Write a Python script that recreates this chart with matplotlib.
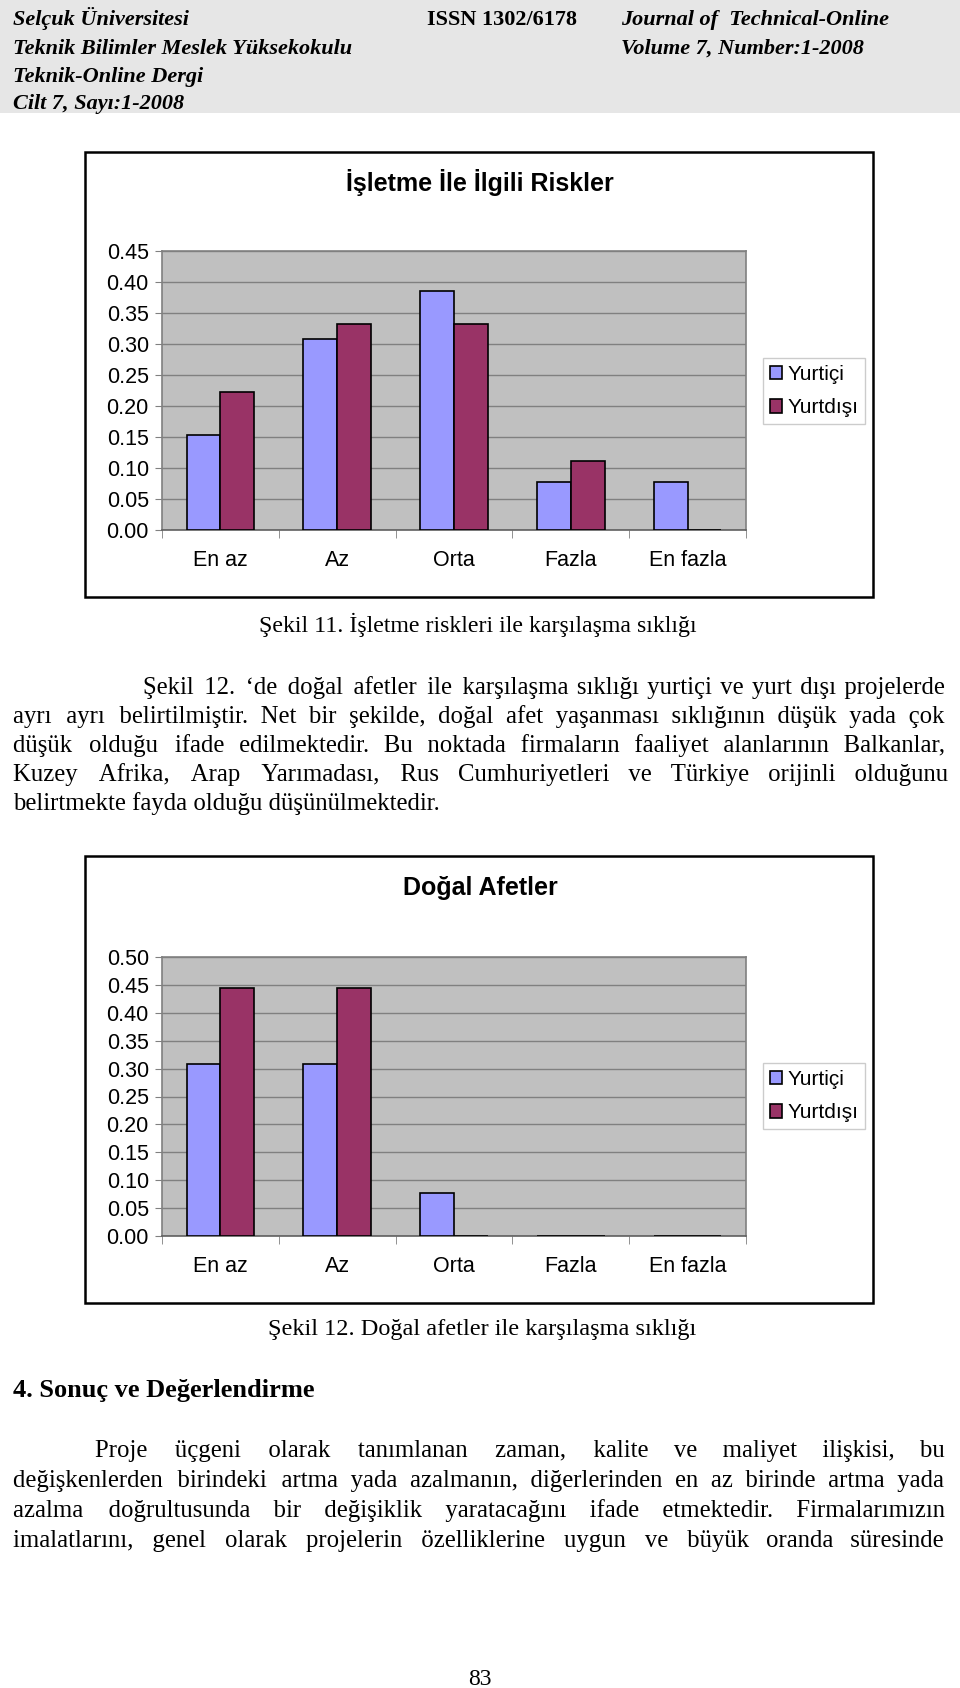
import numpy as np
import matplotlib.pyplot as plt
from matplotlib.patches import Rectangle

#
# Veriler
#
kategoriler = ['En az', 'Az', 'Orta', 'Fazla', 'En fazla']
seriler = ['Yurtiçi', 'Yurtdışı']
renkler = ['#9999ff', '#993366']

# Şekil 11 - İşletme ile ilgili riskler
risk_yurtici = [0.154, 0.308, 0.385, 0.077, 0.077]
risk_yurtdisi = [0.222, 0.333, 0.333, 0.111, 0.0]

# Şekil 12 - Doğal afetler
afet_yurtici = [0.308, 0.308, 0.077, 0.0, 0.0]
afet_yurtdisi = [0.444, 0.444, 0.0, 0.0, 0.0]

W, H = 960, 1688
plt.rcParams['font.family'] = 'Liberation Sans'
fig = plt.figure(figsize=(W / 100, H / 100), dpi=100)
fig.patch.set_facecolor('white')
r = fig.canvas.get_renderer()


def fy(y):
    return 1 - y / H


def kutu_ekle(l, t, rr, b, **kw):
    fig.patches.append(Rectangle((l / W, fy(b)), (rr - l) / W, (b - t) / H,
                                 transform=fig.transFigure, **kw))


#
# Grafik çizimi
#
def grafik(kutu, alan, baslik, baslik_y, yurtici, yurtdisi, ymax, lejant_y):
    kutu_ekle(*kutu, fc='white', ec='black', lw=1.8, zorder=-1)
    l, t, rr, b = alan
    ax = fig.add_axes([l / W, fy(b), (rr - l) / W, (b - t) / H])
    ax.set_zorder(2)
    x = np.arange(len(kategoriler))
    w = 0.29
    ax.bar(x - w / 2, yurtici, w, color=renkler[0], edgecolor='black', lw=1.2,
           label=seriler[0], zorder=3)
    ax.bar(x + w / 2, yurtdisi, w, color=renkler[1], edgecolor='black', lw=1.2,
           label=seriler[1], zorder=3)
    ax.set_xlim(-0.5, len(kategoriler) - 0.5)
    ax.set_ylim(0, ymax)
    ax.set_facecolor('#c0c0c0')
    yt = np.arange(0, ymax + 0.001, 0.05)
    ax.set_yticks(yt)
    ax.set_yticklabels(['%.2f' % v for v in yt])
    ax.yaxis.grid(True, color='#808080', lw=1)
    ax.set_axisbelow(True)
    ax.set_xticks(x)
    ax.set_xticklabels(kategoriler)
    ax.set_xticks(np.arange(-0.5, len(kategoriler), 1), minor=True)
    ax.tick_params(axis='x', which='major', length=0, pad=14.5, labelsize=15.5)
    ax.tick_params(axis='x', which='minor', length=6, color='#808080')
    ax.tick_params(axis='y', length=5, color='#808080', pad=4.5, labelsize=15.5)
    for s in ax.spines.values():
        s.set_color('#808080')
        s.set_linewidth(1.2)
    ax.spines['bottom'].set_color('#606060')
    fig.text(480 / W, fy(baslik_y), baslik, ha='center', va='center',
             fontsize=18, fontweight='bold')
    lg = ax.legend(loc='center', bbox_to_anchor=(814 / W, fy(lejant_y)),
                   bbox_transform=fig.transFigure, fontsize=15, fancybox=False,
                   edgecolor='#c0c0c0', handlelength=0.6, handleheight=0.6,
                   handletextpad=0.25, borderpad=0.3, labelspacing=0.7,
                   borderaxespad=0)
    lg.get_frame().set_linewidth(1)
    return ax


grafik((85, 152, 873, 597), (162, 251, 746, 530), 'İşletme İle İlgili Riskler', 183,
       risk_yurtici, risk_yurtdisi, 0.45, 391)
grafik((85, 856, 873, 1303), (162, 957, 746, 1236), 'Doğal Afetler', 888,
       afet_yurtici, afet_yurtdisi, 0.50, 1096)

#
# Sayfa metinleri
#
SERIF = ['Liberation Serif', 'DejaVu Serif']
GOVDE = 17.8
INCE = '\u200a'   # iki yana yaslama için ince boşluk


def genislik(s, boyut, agirlik='normal'):
    t = fig.text(0, 0, s, fontsize=boyut, family=SERIF, fontweight=agirlik)
    g = t.get_window_extent(r).width
    t.remove()
    return g


def satir(metin, y, x0, x1, boyut=GOVDE, yasla=True, agirlik='normal'):
    kelimeler = metin.split(' ')
    if yasla and len(kelimeler) > 1:
        dogal = genislik(metin, boyut, agirlik)
        ince = (genislik('x' + INCE * 40 + 'x', boyut) - genislik('xx', boyut)) / 40
        n = max(0, int((x1 - x0 - dogal) / ince))
        bosluk = len(kelimeler) - 1
        parca = kelimeler[0]
        for i, k in enumerate(kelimeler[1:]):
            ek = n // bosluk + (1 if i < n % bosluk else 0)
            parca += ' ' + INCE * ek + k
        metin = parca
    fig.text(x0 / W, fy(y), metin, fontsize=boyut, family=SERIF, va='baseline',
             fontweight=agirlik)


# başlık şeridi
kutu_ekle(0, 0, 960, 113, fc='#e6e6e6', ec='none', zorder=-1)
bas = dict(fontsize=16, family=SERIF, fontweight='bold', va='baseline')
fig.text(13 / W, fy(25), 'Selçuk Üniversitesi', style='italic', **bas)
fig.text(13 / W, fy(54), 'Teknik Bilimler Meslek Yüksekokulu', style='italic', **bas)
fig.text(13 / W, fy(82), 'Teknik-Online Dergi', style='italic', **bas)
fig.text(13 / W, fy(109), 'Cilt 7, Sayı:1-2008', style='italic', **bas)
fig.text(427 / W, fy(25), 'ISSN 1302/6178', **bas)
fig.text(621 / W, fy(25), 'Journal of  Technical-Online', style='italic', **bas)
fig.text(621 / W, fy(54), 'Volume 7, Number:1-2008', style='italic', **bas)

fig.text(478 / W, fy(632), 'Şekil 11. İşletme riskleri ile karşılaşma sıklığı',
         ha='center', va='baseline', fontsize=17.2, family=SERIF)

p1 = ['Şekil 12. ‘de doğal afetler ile karşılaşma sıklığı yurtiçi ve yurt dışı projelerde',
      'ayrı ayrı belirtilmiştir. Net bir şekilde, doğal afet yaşanması sıklığının düşük yada çok',
      'düşük olduğu ifade edilmektedir. Bu noktada firmaların faaliyet alanlarının Balkanlar,',
      'Kuzey Afrika, Arap Yarımadası, Rus Cumhuriyetleri ve Türkiye orijinli olduğunu',
      'belirtmekte fayda olduğu düşünülmektedir.']
p1_y = [694, 723, 752, 781, 810]
for i, (s, y) in enumerate(zip(p1, p1_y)):
    satir(s, y, 143 if i == 0 else 13, 945, yasla=(i < len(p1) - 1))

fig.text(482 / W, fy(1335), 'Şekil 12. Doğal afetler ile karşılaşma sıklığı',
         ha='center', va='baseline', fontsize=17.5, family=SERIF)

satir('4. Sonuç ve Değerlendirme', 1397, 13, 945, boyut=19, yasla=False, agirlik='bold')

p2 = ['Proje üçgeni olarak tanımlanan zaman, kalite ve maliyet ilişkisi, bu',
      'değişkenlerden birindeki artma yada azalmanın, diğerlerinden en az birinde artma yada',
      'azalma doğrultusunda bir değişiklik yaratacağını ifade etmektedir. Firmalarımızın',
      'imalatlarını, genel olarak projelerin özelliklerine uygun ve büyük oranda süresinde']
p2_y = [1457, 1487, 1517, 1547]
for i, (s, y) in enumerate(zip(p2, p2_y)):
    satir(s, y, 95 if i == 0 else 13, 945)

fig.text(480 / W, fy(1685), '83', ha='center', va='baseline', fontsize=17, family=SERIF)

fig.savefig('out.png', dpi=100)
